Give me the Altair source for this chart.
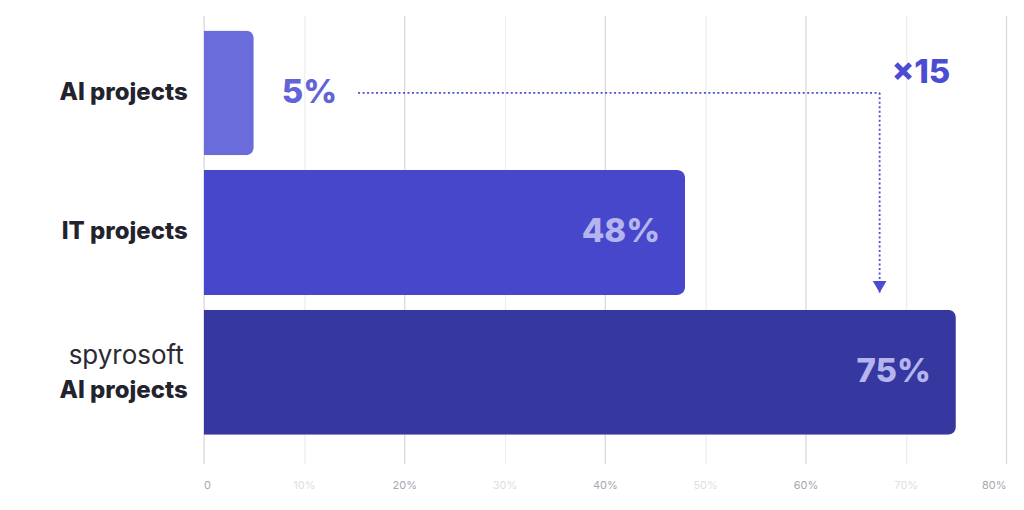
import altair as alt
import pandas as pd

# ---- data ----
categories = ["AI projects", "IT projects", "spyrosoft AI projects"]
values = [5, 48, 75]
bar_colors = ["#6b6cdb", "#4647cb", "#3638a0"]
value_labels = ["5%", "48%", "75%"]
inside = [False, True, True]
main_labels = ["AI projects", "IT projects", "AI projects"]
brand_label = "spyrosoft"

arrow_start = 15.4
arrow_end = 67.4
multiplier_text = "×15"
multiplier_x = 68.6

tick_values = [0, 10, 20, 30, 40, 50, 60, 70, 80]

df = pd.DataFrame({
    "cat": categories,
    "value": values,
    "color": bar_colors,
    "vlabel": value_labels,
    "inside": inside,
    "label": main_labels,
})

FONT = "Inter"

y_scale = alt.Scale(domain=categories, paddingInner=0.107, paddingOuter=0.157, align=0.34)
x_scale = alt.Scale(domain=[0, 80], nice=False)

x_axis = alt.Axis(
    values=tick_values,
    title=None,
    domain=False,
    ticks=False,
    labelExpr="datum.value == 0 ? '0' : datum.value + '%'",
    labelFont=FONT,
    labelFontSize=11,
    labelPadding=16,
    labelColor={"condition": {"test": "datum.value % 20 == 0", "value": "#a6a6b0"}, "value": "#dedee4"},
    gridColor={"condition": {"test": "datum.value % 20 == 0", "value": "#d6d6dc"}, "value": "#ededf1"},
    gridWidth=1.2,
)

base = alt.Chart(df)

bars = base.mark_bar(cornerRadiusEnd=8).encode(
    x=alt.X("value:Q", scale=x_scale, axis=x_axis),
    y=alt.Y("cat:N", scale=y_scale, axis=None),
    color=alt.Color("color:N", scale=None),
)

vals_in = base.transform_filter("datum.inside").mark_text(
    align="right", baseline="middle", dx=-25, font=FONT, fontSize=33,
    fontWeight=800, color="#b4b5ee",
).encode(x="value:Q", y=alt.Y("cat:N", scale=y_scale), text="vlabel:N")

vals_out = base.transform_filter("!datum.inside").mark_text(
    align="left", baseline="middle", dx=28, font=FONT, fontSize=33,
    fontWeight=800, color="#6163d6",
).encode(x="value:Q", y=alt.Y("cat:N", scale=y_scale), text="vlabel:N")

lab_main = base.transform_filter("datum.cat != 'spyrosoft AI projects'").mark_text(
    align="right", baseline="middle", dx=-16, font=FONT, fontSize=24,
    fontWeight=800, color="#23232e",
).encode(x=alt.datum(0), y=alt.Y("cat:N", scale=y_scale), text="label:N")

lab_third = base.transform_filter("datum.cat == 'spyrosoft AI projects'").mark_text(
    align="right", baseline="middle", dx=-16, dy=19, font=FONT, fontSize=24,
    fontWeight=800, color="#23232e",
).encode(x=alt.datum(0), y=alt.Y("cat:N", scale=y_scale), text="label:N")

brand_df = pd.DataFrame({"cat": [categories[2]], "label": [brand_label]})
lab_brand = alt.Chart(brand_df).mark_text(
    align="right", baseline="middle", dx=-20, dy=-16, font=FONT, fontSize=26,
    fontWeight="normal", color="#2a2a33",
).encode(x=alt.datum(0), y=alt.Y("cat:N", scale=y_scale), text="label:N")

ARROW = "#4b4cd2"
h_df = pd.DataFrame({"x": [arrow_start], "x2": [arrow_end], "cat": [categories[0]]})
h_rule = alt.Chart(h_df).mark_rule(color=ARROW, strokeWidth=1.8, strokeDash=[2, 2.5]).encode(
    x="x:Q", x2="x2:Q", y=alt.Y("cat:N", scale=y_scale)
)

v_df = pd.DataFrame({"x": [arrow_end], "from": [categories[0]], "to": [categories[1]]})
v_rule = alt.Chart(v_df).mark_rule(color=ARROW, strokeWidth=1.8, strokeDash=[2, 2.5]).encode(
    x="x:Q",
    y=alt.Y("from:N", scale=y_scale, bandPosition=0.5),
    y2=alt.Y2("to:N", bandPosition=1),
)

head = alt.Chart(v_df).mark_point(
    shape="triangle-down", filled=True, color=ARROW, size=190, opacity=1, yOffset=-8
).encode(x="x:Q", y=alt.Y("to:N", scale=y_scale, bandPosition=1))

m_df = pd.DataFrame({"x": [multiplier_x], "cat": [categories[0]], "t": [multiplier_text]})
mult = alt.Chart(m_df).mark_text(
    align="left", baseline="middle", dy=-20, font=FONT, fontSize=33,
    fontWeight=800, color="#4b4cd2",
).encode(x="x:Q", y=alt.Y("cat:N", scale=y_scale), text="t:N")

chart = alt.layer(
    bars, vals_in, vals_out, lab_main, lab_third, lab_brand, h_rule, v_rule, head, mult
).properties(
    width=804,
    height=449,
    padding={"left": 196, "top": 7, "right": 10, "bottom": 38},
    autosize=alt.AutoSizeParams(type="none"),
    background="white",
).configure_view(stroke=None)

chart.save("out.html", embed_options={"renderer": "svg", "actions": False})
